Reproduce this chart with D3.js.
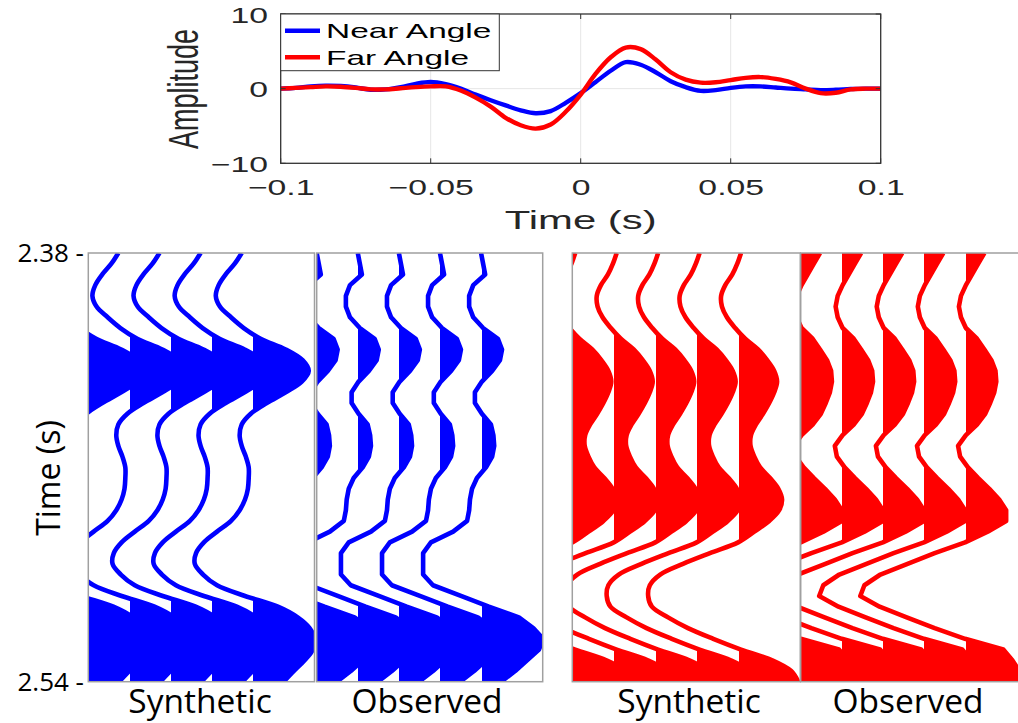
<!DOCTYPE html>
<html><head><meta charset="utf-8">
<script src="https://cdn.jsdelivr.net/npm/d3@7"></script>
<style>body{margin:0;background:#fff}svg{display:block}</style>
</head><body>
<svg id="c" width="1018" height="723"></svg>
<script>
// ---------- DATA ----------
const waveletTime = [-0.1,-0.095,-0.09,-0.085,-0.08,-0.075,-0.07,-0.065,-0.06,-0.055,-0.05,-0.045,-0.04,-0.035,-0.03,-0.025,-0.02,-0.015,-0.01,-0.005,0,0.005,0.01,0.015,0.02,0.025,0.03,0.035,0.04,0.045,0.05,0.055,0.06,0.065,0.07,0.075,0.08,0.085,0.09,0.095,0.1];
const nearAngle = [0,0.1,0.3,0.4,0.35,0.15,-0.15,-0.1,0.2,0.65,0.9,0.6,0,-0.8,-1.55,-2.25,-2.9,-3.3,-3.0,-1.9,-0.6,0.9,2.4,3.55,3.2,2.2,1.0,0.2,-0.3,-0.2,0.1,0.3,0.3,0.15,0,-0.1,-0.2,-0.15,-0.05,0,0];
const farAngle = [0,0.1,0.2,0.3,0.25,0.1,-0.1,-0.1,0.05,0.2,0.3,0.3,-0.25,-1.2,-2.4,-3.9,-4.9,-5.35,-4.8,-3.1,-0.8,2.0,4.2,5.5,5.3,3.9,2.2,1.2,0.8,0.85,1.15,1.45,1.55,1.3,0.85,0,-0.6,-0.55,-0.1,0,0];
const legendLabels = ["Near Angle","Far Angle"];
const xTicksTop = [-0.1,-0.05,0,0.05,0.1];
const yTicksTop = [-10,0,10];

const traceTime = [2.380,2.384,2.388,2.392,2.396,2.400,2.404,2.408,2.412,2.416,2.420,2.424,2.428,2.432,2.436,2.440,2.444,2.448,2.452,2.456,2.460,2.464,2.468,2.472,2.476,2.480,2.484,2.488,2.492,2.496,2.500,2.504,2.508,2.512,2.516,2.520,2.524,2.528,2.532,2.536,2.540];
// amplitudes in units of trace spacing
const nearSynthetic = [-0.27,-0.44,-0.66,-0.83,-0.90,-0.80,-0.53,-0.22,0.19,0.80,1.21,1.36,1.19,0.80,0.34,-0.05,-0.27,-0.32,-0.27,-0.17,-0.10,-0.10,-0.12,-0.19,-0.32,-0.53,-0.87,-1.19,-1.38,-1.41,-1.21,-0.87,-0.19,0.61,1.09,1.38,1.50,1.46,1.26,1.00,0.75];
const nearObserved = [0,0.05,0.10,-0.19,-0.29,-0.29,-0.19,0.05,0.41,0.51,0.46,0.27,0.02,-0.15,-0.15,0.02,0.24,0.30,0.32,0.27,0.12,-0.10,-0.22,-0.27,-0.29,-0.34,-0.68,-1.22,-1.41,-1.41,-1.41,-1.17,-0.49,0.19,0.92,1.27,1.51,1.41,1.12,0.83,0.49];
const farSynthetic = [0.07,-0.02,-0.14,-0.31,-0.41,-0.39,-0.27,-0.07,0.17,0.48,0.70,0.87,0.94,0.87,0.75,0.60,0.43,0.31,0.30,0.39,0.53,0.77,0.97,1.06,0.99,0.75,0.39,0,-0.68,-1.33,-1.88,-2.13,-2.17,-2.08,-1.69,-1.21,-0.60,0.07,0.82,1.28,1.45];
const farObserved = [0.47,0.32,0.17,0.02,-0.10,-0.15,-0.10,0.02,0.29,0.47,0.64,0.74,0.76,0.71,0.61,0.49,0.29,0.02,-0.17,-0.12,0.07,0.32,0.59,0.83,1.00,1.00,0.55,0,-0.74,-1.40,-2.06,-2.45,-2.55,-2.08,-1.42,-0.74,0,0.93,1.15,1.32,1.47];
const traceIndex = [0,1,2,3,4];
const timeTicks = [2.38,2.54];
const panelLabels = ["Synthetic","Observed","Synthetic","Observed"];

// ---------- TOP WAVELET CHART ----------
const svg = d3.select("#c");
const BLUE = "#0000ff", RED = "#ff0000";
const SX = 1.5; // horizontal text stretch of the reference
const xW = d3.scaleLinear().domain([-0.1,0.1]).range([280.7,880.7]);
const yW = d3.scaleLinear().domain([-10,10]).range([163.3,14]);
const topG = svg.append("g");

topG.selectAll("line.gx").data(xTicksTop.slice(1,-1)).join("line")
  .attr("x1",d=>xW(d)).attr("x2",d=>xW(d)).attr("y1",yW(10)).attr("y2",yW(-10))
  .attr("stroke","#e6e6e6").attr("stroke-width",1);
topG.selectAll("line.gy").data([0]).join("line")
  .attr("x1",xW(-0.1)).attr("x2",xW(0.1)).attr("y1",d=>yW(d)).attr("y2",d=>yW(d))
  .attr("stroke","#e6e6e6").attr("stroke-width",1);

const lineW = d3.line().x((d,i)=>xW(waveletTime[i])).y(d=>yW(d)).curve(d3.curveCatmullRom);
topG.append("path").datum(nearAngle).attr("d",lineW).attr("fill","none").attr("stroke",BLUE).attr("stroke-width",4.4).attr("stroke-linejoin","round");
topG.append("path").datum(farAngle).attr("d",lineW).attr("fill","none").attr("stroke",RED).attr("stroke-width",4.4).attr("stroke-linejoin","round");

// ticks inside
topG.selectAll("line.tx").data(xTicksTop).join("line")
  .attr("x1",d=>xW(d)).attr("x2",d=>xW(d)).attr("y1",yW(-10)).attr("y2",yW(-10)-5).attr("stroke","#333");
topG.selectAll("line.tx2").data(xTicksTop).join("line")
  .attr("x1",d=>xW(d)).attr("x2",d=>xW(d)).attr("y1",yW(10)).attr("y2",yW(10)+5).attr("stroke","#333");
topG.selectAll("line.ty").data(yTicksTop).join("line")
  .attr("x1",xW(-0.1)).attr("x2",xW(-0.1)+5).attr("y1",d=>yW(d)).attr("y2",d=>yW(d)).attr("stroke","#333");
topG.selectAll("line.ty2").data(yTicksTop).join("line")
  .attr("x1",xW(0.1)).attr("x2",xW(0.1)-5).attr("y1",d=>yW(d)).attr("y2",d=>yW(d)).attr("stroke","#333");

topG.append("rect").attr("x",xW(-0.1)).attr("y",yW(10)).attr("width",xW(0.1)-xW(-0.1)).attr("height",yW(-10)-yW(10))
  .attr("fill","none").attr("stroke","#333").attr("stroke-width",1.3);

const fmt = d3.format("");
const axB = topG.append("g").attr("transform",`translate(0,${yW(-10)})`)
  .call(d3.axisBottom(xW).tickValues(xTicksTop).tickSize(0).tickPadding(0).tickFormat(fmt));
axB.select(".domain").remove();
axB.attr("font-family","Liberation Sans, Arial, sans-serif").attr("font-size",22.5);
axB.selectAll("text").attr("y",31.5).attr("dy",0).attr("fill","#262626").attr("transform",`scale(${SX},1)`);

const axL = topG.append("g").attr("transform",`translate(268,0)`)
  .call(d3.axisLeft(yW).tickValues(yTicksTop).tickSize(0).tickPadding(0).tickFormat(fmt));
axL.select(".domain").remove();
axL.attr("font-family","Liberation Sans, Arial, sans-serif").attr("font-size",22.5);
axL.selectAll("text").attr("x",0).attr("dy","0.36em").attr("fill","#262626").attr("transform",`scale(${SX},1)`);

topG.append("text").attr("transform",`translate(580.7,229) scale(1.58,1)`).attr("text-anchor","middle")
  .attr("font-family","Liberation Sans, Arial, sans-serif").attr("font-size",26.5).attr("fill","#262626").text("Time (s)");
topG.append("text").attr("transform",`translate(198,89) scale(1.55,1) rotate(-90)`).attr("text-anchor","middle")
  .attr("font-family","Liberation Sans, Arial, sans-serif").attr("font-size",27).attr("fill","#262626").text("Amplitude");

// legend
const leg = topG.append("g");
leg.append("rect").attr("x",280.7).attr("y",14).attr("width",218.6).attr("height",56.7).attr("fill","#fff").attr("stroke","#333").attr("stroke-width",1);
const legColors = [BLUE, RED];
const legY = d3.scalePoint().domain(legendLabels).range([30.7,57.3]);
leg.selectAll("line.l").data(legendLabels).join("line")
  .attr("x1",285).attr("x2",320).attr("y1",d=>legY(d)).attr("y2",d=>legY(d))
  .attr("stroke",(d,i)=>legColors[i]).attr("stroke-width",4.4);
leg.selectAll("text.l").data(legendLabels).join("text")
  .attr("transform",d=>`translate(326,${legY(d)+7.4}) scale(1.63,1)`)
  .attr("font-family","Liberation Sans, Arial, sans-serif").attr("font-size",20.5).attr("fill","#000").text(d=>d);

// ---------- WIGGLE PANELS ----------
const panels = [
  {data: nearSynthetic, color: BLUE, x0: 88.3, w: 226.2, smooth: true, lx: 200},
  {data: nearObserved, color: BLUE, x0: 316.7, w: 226, smooth: false, lx: 427},
  {data: farSynthetic, color: RED, x0: 572.3, w: 228, smooth: true, lx: 689},
  {data: farObserved, color: RED, x0: 800.7, w: 226, smooth: false, lx: 908}
];
const yT = d3.scaleLinear().domain([2.38,2.54]).range([253,681.7]);
const defs = svg.append("defs");

panels.forEach((p, pi) => {
  const xs = d3.scaleLinear().domain([0,5.5]).range([p.x0, p.x0 + p.w]);
  const curve = p.smooth ? d3.curveCatmullRom : d3.curveLinear;
  const pid = "panel" + pi;
  defs.append("clipPath").attr("id", pid).append("rect")
    .attr("x", p.x0).attr("y", yT(2.38)).attr("width", p.w).attr("height", yT(2.54) - yT(2.38));
  const g = svg.append("g").attr("clip-path", `url(#${pid})`);
  traceIndex.forEach(k => {
    const cid = `fill${pi}_${k}`;
    const cx = Math.ceil(xs(k));
    defs.append("clipPath").attr("id", cid).append("rect")
      .attr("x", cx).attr("y", yT(2.38)).attr("width", p.x0 + p.w - cx + 2).attr("height", yT(2.54) - yT(2.38));
    const area = d3.area().y((d,i)=>yT(traceTime[i])).x0(xs(k)).x1(d=>xs(k + d)).curve(curve);
    g.append("path").datum(p.data).attr("d", area).attr("fill", p.color).attr("clip-path", `url(#${cid})`);
    const ln = d3.line().y((d,i)=>yT(traceTime[i])).x(d=>xs(k + d)).curve(curve);
    g.append("path").datum(p.data).attr("d", ln).attr("fill","none").attr("stroke", p.color)
      .attr("stroke-width", 4.6).attr("stroke-linejoin","round");
  });
  svg.append("rect").attr("x", p.x0).attr("y", yT(2.38)).attr("width", p.w).attr("height", yT(2.54) - yT(2.38))
    .attr("fill","none").attr("stroke","#a0a0a0").attr("stroke-width",1.5);
  svg.append("text").attr("x", p.lx).attr("y", 713).attr("text-anchor","middle")
    .attr("font-family","Open Sans, Noto Sans, sans-serif").attr("font-size",33.5).attr("fill","#000").text(panelLabels[pi]);
});

// left time axis labels
svg.selectAll("text.tt").data(timeTicks).join("text")
  .attr("x",84).attr("y",d=>yT(d)).attr("dy","0.36em").attr("text-anchor","end")
  .attr("font-family","Open Sans, Noto Sans, sans-serif").attr("font-size",26).attr("fill","#000")
  .text(d=>d3.format(".2f")(d) + " -");
svg.append("text").attr("transform","translate(60,478) rotate(-90)").attr("text-anchor","middle")
  .attr("font-family","Open Sans, Noto Sans, sans-serif").attr("font-size",32).attr("fill","#000").text("Time (s)");
</script>
</body></html>
